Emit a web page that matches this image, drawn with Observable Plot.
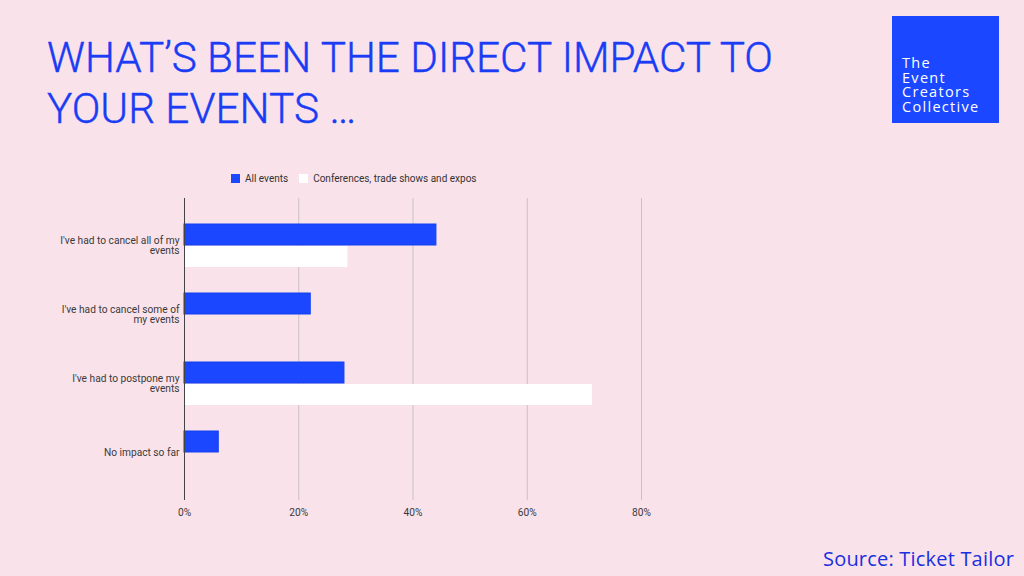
<!DOCTYPE html>
<html>
<head>
<meta charset="utf-8">
<script src="https://cdn.jsdelivr.net/npm/d3@7"></script>
<script src="https://cdn.jsdelivr.net/npm/@observablehq/plot@0.6"></script>
<style>
  html, body { margin: 0; padding: 0; }
  body { width: 1024px; height: 576px; background: #f9e2ea; position: relative; overflow: hidden; font-family: Roboto, sans-serif; }
  .tline { position: absolute; left: 47px; color: #1a3cf5; font-family: Roboto, sans-serif; font-weight: 300; font-size: 42px; line-height: 42px; white-space: nowrap; transform-origin: 0 0; -webkit-text-stroke: 0.4px #1a3cf5; }
  #logo { position: absolute; left: 892px; top: 16px; width: 107px; height: 107px; background: #1a47ff; }
  #logo div { position: absolute; left: 10px; top: 40px; color: #fff; font-family: "Open Sans", sans-serif; font-size: 14.5px; line-height: 14.5px; letter-spacing: 1.3px; }
  #legend { position: absolute; left: 231px; top: 173px; font-family: Roboto, sans-serif; font-size: 10px; color: #333; display: flex; align-items: center; }
  #legend .sw { width: 9px; height: 9px; display: inline-block; margin-right: 5px; }
  #legend .item { display: flex; align-items: center; margin-right: 11px; }
  #chart { position: absolute; left: 0; top: 190px; }
  #source { position: absolute; left: 823px; top: 545px; color: #1a2fe0; font-family: "Open Sans", sans-serif; font-size: 20px; letter-spacing: 0.2px; white-space: nowrap; }
</style>
</head>
<body>
<div class="tline" id="t1" style="top:37px">WHAT’S BEEN THE DIRECT IMPACT TO</div>
<div class="tline" id="t2" style="top:88px">YOUR EVENTS …</div>
<div id="logo"><div>The<br>Event<br>Creators<br>Collective</div></div>
<div id="legend"></div>
<div id="chart"></div>
<div id="source">Source: Ticket Tailor</div>
<script>
const categories = [
  "I've had to cancel all of my events",
  "I've had to cancel some of my events",
  "I've had to postpone my events",
  "No impact so far"
];
const categoryLabels = [
  "I've had to cancel all of my\nevents",
  "I've had to cancel some of\nmy events",
  "I've had to postpone my\nevents",
  "No impact so far"
];
const seriesNames = ["All events", "Conferences, trade shows and expos"];
const seriesColors = ["#1a47ff", "#ffffff"];
const allEvents = [0.441, 0.221, 0.280, 0.060];
const conferences = [0.286, 0, 0.714, 0];
const xTicks = [0, 0.2, 0.4, 0.6, 0.8];

const rows = [];
categories.forEach((c, i) => {
  rows.push({category: c, series: seriesNames[0], value: allEvents[i]});
  if (conferences[i] > 0) rows.push({category: c, series: seriesNames[1], value: conferences[i]});
});
const labelOf = new Map(categories.map((c, i) => [c, categoryLabels[i]]));

// legend
const legend = document.getElementById("legend");
seriesNames.forEach((s, i) => {
  const it = document.createElement("div");
  it.className = "item";
  it.innerHTML = `<span class="sw" style="background:${seriesColors[i]}"></span><span>${s}</span>`;
  legend.appendChild(it);
});

const chart = Plot.plot({
  width: 1024,
  height: 335,
  marginTop: 8,
  marginBottom: 25,
  marginLeft: 184,
  marginRight: 383,
  style: {background: "transparent", fontFamily: "Roboto, sans-serif", fontSize: "10.2px", color: "#3a3a3a"},
  x: {domain: [0, 0.8], ticks: xTicks, tickFormat: d3.format(".0%"), label: null},
  y: {domain: categories, paddingInner: 0.371, paddingOuter: 0.343, label: null},
  color: {domain: seriesNames, range: seriesColors},
  marks: [
    Plot.gridX(xTicks, {stroke: "#c9c2c5", strokeOpacity: 1}),
    Plot.axisX({ticks: xTicks, tickFormat: d3.format(".0%"), tickSize: 0, tickPadding: 8, label: null, fill: "#3a3a3a"}),
    Plot.axisY({tickSize: 0, tickPadding: 5, tickFormat: d => labelOf.get(d), lineHeight: 0.95, label: null, fill: "#3a3a3a"}),
    Plot.barX(rows.filter(d => d.series === seriesNames[0]), {
      x: "value", y: "category", fill: "#1a47ff", stroke: "#1540f0", strokeWidth: 1, insetBottom: 22
    }),
    Plot.barX(rows.filter(d => d.series === seriesNames[1]), {
      x: "value", y: "category", fill: "#ffffff", insetTop: 22
    }),
    Plot.ruleX([0], {stroke: "#444", strokeWidth: 1})
  ]
});
document.getElementById("chart").appendChild(chart);

// fit title to reference width
const t1 = document.getElementById("t1"), t2 = document.getElementById("t2");
const s = 726 / t1.getBoundingClientRect().width;
t1.style.transform = `scaleX(${s})`;
t2.style.transform = `scaleX(${s})`;
</script>
</body>
</html>
